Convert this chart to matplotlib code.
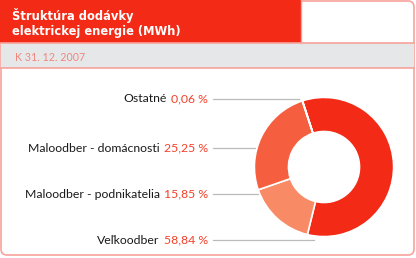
import matplotlib
matplotlib.use("Agg")
import matplotlib.pyplot as plt
from matplotlib.patches import Rectangle, FancyBboxPatch

# data
categories = ["Veľkoodber", "Maloodber - podnikatelia", "Maloodber - domácnosti", "Ostatné"]
shares = [58.84, 15.85, 25.25, 0.06]
colors = ["#f32a16", "#f98a66", "#f55f3f", "#f32a16"]
title_lines = ["Štruktúra dodávky", "elektrickej energie (MWh)"]
subtitle = "K 31. 12. 2007"

W, H = 416, 258
RED = "#f32a16"
BORDER = "#f8a39b"
GREY = "#e6e7e9"
LABEL_FONT = ["Lato", "DejaVu Sans"]

fig = plt.figure(figsize=(W / 100, H / 100), dpi=100)
bg = fig.add_axes([0, 0, 1, 1])
bg.set_xlim(0, W)
bg.set_ylim(H, 0)
bg.axis("off")

# frame
bg.add_patch(FancyBboxPatch((1, 1), 413, 254, boxstyle="round,pad=0,rounding_size=6",
                            facecolor="white", edgecolor=BORDER, linewidth=1.2))
bg.add_patch(Rectangle((0, 0), 301, 43, facecolor=RED, edgecolor="none"))
bg.add_patch(Rectangle((1, 43), 413, 25, facecolor=GREY, edgecolor="none"))
bg.plot([301, 301], [0, 43], color=BORDER, lw=1)
bg.plot([1, 414], [43, 43], color=BORDER, lw=1.2)
bg.plot([1, 414], [68, 68], color=BORDER, lw=1.2)

bg.text(12, 20, title_lines[0], color="white", fontsize=8.3, fontweight="bold",
        family="DejaVu Sans", va="baseline")
bg.text(12, 35, title_lines[1], color="white", fontsize=8.3, fontweight="bold",
        family="DejaVu Sans", va="baseline")
bg.text(15, 61, subtitle, color="#f0877d", fontsize=7.7, family=LABEL_FONT, va="baseline")

# labels with leader lines (top to bottom)
order = [3, 2, 1, 0]
label_y = [99, 148, 194, 240]
line_end = [299, 255, 258, 314]
for i, y, xe in zip(order, label_y, line_end):
    pct = f"{shares[i]:.2f} %".replace(".", ",")
    t = bg.text(208, y, pct, color="#f5402a", fontsize=8.8, family=LABEL_FONT,
                ha="right", va="center")
    bg.annotate(categories[i], xy=(0, 0.5), xycoords=t, xytext=(-3, 0),
                textcoords="offset points", ha="right", va="center",
                fontsize=8.8, family=LABEL_FONT, color="#1a1a1a")
    bg.plot([213, xe], [y, y], color="#bbbbbb", lw=0.9)

# donut
cx, cy, r = 324, 167, 71
pax = fig.add_axes([(cx - r) / W, (H - cy - r) / H, 2 * r / W, 2 * r / H])
pax.pie(shares, colors=colors, startangle=108, counterclock=False, radius=1,
        wedgeprops=dict(width=0.49, edgecolor="white", linewidth=1.2))
pax.set_xlim(-1.02, 1.02)
pax.set_ylim(-1.02, 1.02)
pax.axis("off")

fig.savefig("out.png", dpi=100)
